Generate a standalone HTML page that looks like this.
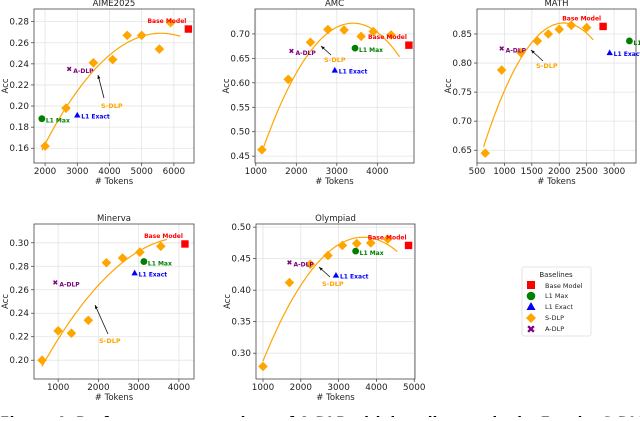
<!DOCTYPE html>
<html><head><meta charset="utf-8"><style>
body{margin:0;background:#fff;width:640px;height:417px;overflow:hidden;font-family:"DejaVu Sans","Liberation Sans",sans-serif}
svg text{font-family:"DejaVu Sans","Liberation Sans",sans-serif}
</style></head><body>
<svg id="fig" width="640" height="417" viewBox="0 0 640 417">
<text x="0" y="427" font-family="Liberation Serif" font-weight="bold" font-size="14">Figure 4: Performance comparison of A-DLP with baseline methods. For the S-DLP, we test</text>
<g>
<rect x="522" y="267" width="69" height="69" rx="2" fill="#fff" stroke="#ddd" stroke-width="0.8"/>
<text x="556" y="277" font-size="7" text-anchor="middle" fill="#222">Baselines</text>
<rect x="527" y="281" width="8" height="8" fill="red"/>
<text x="545" y="288" font-size="6.5" fill="#222">Base Model</text>
<circle cx="531" cy="296" r="4.3" fill="green"/>
<text x="545" y="298" font-size="6.5" fill="#222">L1 Max</text>
<polygon points="531,302 535.5,310 526.5,310" fill="blue"/>
<text x="545" y="309" font-size="6.5" fill="#222">L1 Exact</text>
<polygon points="531,313 536,318 531,323 526,318" fill="orange"/>
<text x="545" y="320" font-size="6.5" fill="#222">S-DLP</text>
<text x="531" y="333" font-size="11" font-weight="bold" text-anchor="middle" fill="purple">✖</text>
<text x="545" y="331" font-size="6.5" fill="#222">A-DLP</text>
</g>
</svg>
<script>
// AIME2025
const aimeSdlpX=[2000,2650,3500,4100,4550,5000,5550,5900];
const aimeSdlpY=[0.162,0.198,0.241,0.244,0.267,0.267,0.254,0.279];
const aimeBase=[6450,0.273], aimeL1Max=[1900,0.188], aimeL1Exact=[3000,0.191], aimeAdlp=[2750,0.235];
const aimeXTicks=[2000,3000,4000,5000,6000];
const aimeYTicks=[0.16,0.18,0.20,0.22,0.24,0.26,0.28];
// AMC
const amcSdlpX=[1150,1800,2350,2780,3180,3600,3900,4340];
const amcSdlpY=[0.463,0.607,0.683,0.709,0.708,0.695,0.705,0.698];
const amcBase=[4780,0.677], amcL1Max=[3450,0.671], amcL1Exact=[2950,0.625], amcAdlp=[1880,0.665];
const amcXTicks=[1000,2000,3000,4000];
const amcYTicks=[0.45,0.50,0.55,0.60,0.65,0.70];
// MATH
const mathSdlpX=[650,950,1300,1600,1800,2000,2220,2500];
const mathSdlpY=[0.645,0.788,0.818,0.838,0.850,0.858,0.865,0.861];
const mathBase=[2800,0.863], mathL1Max=[3280,0.838], mathL1Exact=[2920,0.817], mathAdlp=[950,0.825];
const mathXTicks=[500,1000,1500,2000,2500,3000];
const mathYTicks=[0.65,0.70,0.75,0.80,0.85];
// Minerva
const minSdlpX=[600,1000,1330,1750,2200,2600,3030,3550];
const minSdlpY=[0.200,0.225,0.223,0.234,0.283,0.287,0.292,0.297];
const minBase=[4150,0.299], minL1Max=[3130,0.284], minL1Exact=[2900,0.274], minAdlp=[930,0.266];
const minXTicks=[1000,2000,3000,4000];
const minYTicks=[0.20,0.22,0.24,0.26,0.28,0.30];
// Olympiad
const olySdlpX=[1000,1700,2250,2720,3100,3480,3850,4300];
const olySdlpY=[0.279,0.412,0.441,0.455,0.471,0.474,0.475,0.481];
const olyBase=[4850,0.471], olyL1Max=[3450,0.462], olyL1Exact=[2930,0.423], olyAdlp=[1700,0.444];
const olyXTicks=[1000,2000,3000,4000,5000];
const olyYTicks=[0.30,0.35,0.40,0.45,0.50];
// fitted trend curves: [peakX, peakY, curvature, xStart, xEnd]
const aimeFit=[5600,0.269,8.1e-9,1900,6200];
const amcFit=[3400,0.722,5.2e-8,1150,4550];
const mathFit=[2080,0.869,1.0e-7,620,2620];
const minFit=[4200,0.305,8.5e-9,600,3700];
const olyFit=[3650,0.484,2.8e-8,1000,4550];

const NS='http://www.w3.org/2000/svg';
const svg=document.getElementById('fig');
function mk(tag,attrs,parent){const e=document.createElementNS(NS,tag);for(const k in attrs)e.setAttribute(k,attrs[k]);(parent||svg).appendChild(e);return e;}

function panel(p){
  const g=mk('g',{});
  
  
  const sx=v=>p.L+(v-p.xmin)/(p.xmax-p.xmin)*(p.R-p.L);
  const sy=v=>p.B-(v-p.ymin)/(p.ymax-p.ymin)*(p.B-p.T);
  p.xt.forEach(t=>{const x=sx(t);const l=mk('line',{x1:x,x2:x,y1:p.T,y2:p.B,stroke:'#e4e4e4','stroke-width':0.8},g);
    mk('line',{x1:x,x2:x,y1:p.B,y2:p.B+3,stroke:'#333','stroke-width':0.7},g);
    const tx=mk('text',{x:x,y:p.B+11,'font-size':8.8,'text-anchor':'middle',fill:'#222'},g);tx.textContent=t;});
  p.yt.forEach(t=>{const y=sy(t);const l=mk('line',{x1:p.L,x2:p.R,y1:y,y2:y,stroke:'#e4e4e4','stroke-width':0.8},g);
    mk('line',{x1:p.L-3,x2:p.L,y1:y,y2:y,stroke:'#333','stroke-width':0.7},g);
    const tx=mk('text',{x:p.L-5,y:y+3,'font-size':8.8,'text-anchor':'end',fill:'#222'},g);tx.textContent=t.toFixed(2);});
  const fr=mk('rect',{x:p.L,y:p.T,width:p.R-p.L,height:p.B-p.T,fill:'none',stroke:'#444','stroke-width':0.8},g);
  
  const ti=mk('text',{x:(p.L+p.R)/2,y:p.T-3,'font-size':8.5,'text-anchor':'middle',fill:'#222'},g);ti.textContent=p.title;
  
  const xl=mk('text',{x:(p.L+p.R)/2,y:p.B+21,'font-size':8.5,'text-anchor':'middle',fill:'#222'},g);xl.textContent='# Tokens';
  
  const yx=p.L-26,yy=(p.T+p.B)/2;
  const yl=mk('text',{x:yx,y:yy,'font-size':8.5,'text-anchor':'middle',fill:'#222',transform:`rotate(-90 ${yx} ${yy})`},g);yl.textContent='Acc';
  
  const f=p.fit;let d='';
  for(let i=0;i<=60;i++){const x=f[3]+(f[4]-f[3])*i/60;const y=f[1]-f[2]*(x-f[0])*(x-f[0]);d+=(i?'L':'M')+sx(x).toFixed(1)+' '+sy(y).toFixed(1);}
  const c=mk('path',{d:d,fill:'none',stroke:'orange','stroke-width':1.2},g);
  
  p.sx.forEach((v,i)=>{const x=sx(v),y=sy(p.sy[i]);const m=mk('polygon',{points:`${x},${y-4.8} ${x+4.8},${y} ${x},${y+4.8} ${x-4.8},${y}`,fill:'orange'},g);
    });
  {const x=sx(p.base[0]),y=sy(p.base[1]);const m=mk('rect',{x:x-3.7,y:y-3.7,width:7.4,height:7.4,fill:'red'},g);
   const t=mk('text',{x:x-2,y:y-6,'font-size':6,'font-weight':'bold','text-anchor':'end',fill:'red'},g);t.textContent='Base Model';}
  {const x=sx(p.l1max[0]),y=sy(p.l1max[1]);const m=mk('circle',{cx:x,cy:y,r:3.4,fill:'green'},g);
   const t=mk('text',{x:x+4,y:y+4,'font-size':6,'font-weight':'bold',fill:'green'},g);t.textContent='L1 Max';}
  {const x=sx(p.l1ex[0]),y=sy(p.l1ex[1]);const m=mk('polygon',{points:`${x},${y-3.7} ${x+3.2},${y+2} ${x-3.2},${y+2}`,fill:'blue'},g);
   const t=mk('text',{x:x+4,y:y+3,'font-size':6,'font-weight':'bold',fill:'blue'},g);t.textContent='L1 Exact';}
  {const x=sx(p.adlp[0]),y=sy(p.adlp[1]);const m=mk('text',{x:x,y:y+2.5,'font-size':7,'font-weight':'bold','text-anchor':'middle',fill:'purple'},g);m.textContent='✖';
   const t=mk('text',{x:x+4,y:y+4,'font-size':6,'font-weight':'bold',fill:'purple'},g);t.textContent='A-DLP';}
  const a=p.arrow;
  mk('line',{x1:a[0],y1:a[1],x2:a[2],y2:a[3],stroke:'#111','stroke-width':0.8},g);
  const ang=Math.atan2(a[3]-a[1],a[2]-a[0]);const hx=a[2],hy=a[3];
  mk('polygon',{points:`${hx},${hy} ${hx-4*Math.cos(ang-0.4)},${hy-4*Math.sin(ang-0.4)} ${hx-4*Math.cos(ang+0.4)},${hy-4*Math.sin(ang+0.4)}`,fill:'#111'},g);
  const st=mk('text',{x:a[4],y:a[5],'font-size':6.5,'font-weight':'bold',fill:'orange'},g);st.textContent='S-DLP';
  
}
panel({name:'aime',title:'AIME2025',L:34,R:194,T:9,B:163,xmin:1656,xmax:6625,ymin:0.146,ymax:0.292,xt:aimeXTicks,yt:aimeYTicks,sx:aimeSdlpX,sy:aimeSdlpY,base:aimeBase,l1max:aimeL1Max,l1ex:aimeL1Exact,adlp:aimeAdlp,fit:aimeFit,arrow:[104,98,98,75,101,108]});
panel({name:'amc',title:'AMC',L:255,R:414,T:9,B:163,xmin:980,xmax:4906,ymin:0.436,ymax:0.751,xt:amcXTicks,yt:amcYTicks,sx:amcSdlpX,sy:amcSdlpY,base:amcBase,l1max:amcL1Max,l1ex:amcL1Exact,adlp:amcAdlp,fit:amcFit,arrow:[331,55,321,46,324,62]});
panel({name:'math',title:'MATH',L:477,R:636,T:9,B:163,xmin:500,xmax:3400,ymin:0.628,ymax:0.893,xt:mathXTicks,yt:mathYTicks,sx:mathSdlpX,sy:mathSdlpY,base:mathBase,l1max:mathL1Max,l1ex:mathL1Exact,adlp:mathAdlp,fit:mathFit,arrow:[543,61,531,50,536,68]});
panel({name:'minerva',title:'Minerva',L:34,R:194,T:224,B:379,xmin:400,xmax:4375,ymin:0.184,ymax:0.316,xt:minXTicks,yt:minYTicks,sx:minSdlpX,sy:minSdlpY,base:minBase,l1max:minL1Max,l1ex:minL1Exact,adlp:minAdlp,fit:minFit,arrow:[108,334,95,305,99,343]});
panel({name:'olympiad',title:'Olympiad',L:256,R:415,T:224,B:379,xmin:815,xmax:5020,ymin:0.259,ymax:0.505,xt:olyXTicks,yt:olyYTicks,sx:olySdlpX,sy:olySdlpY,base:olyBase,l1max:olyL1Max,l1ex:olyL1Exact,adlp:olyAdlp,fit:olyFit,arrow:[330,277,319,267,322,286]});
</script>
</body></html>
